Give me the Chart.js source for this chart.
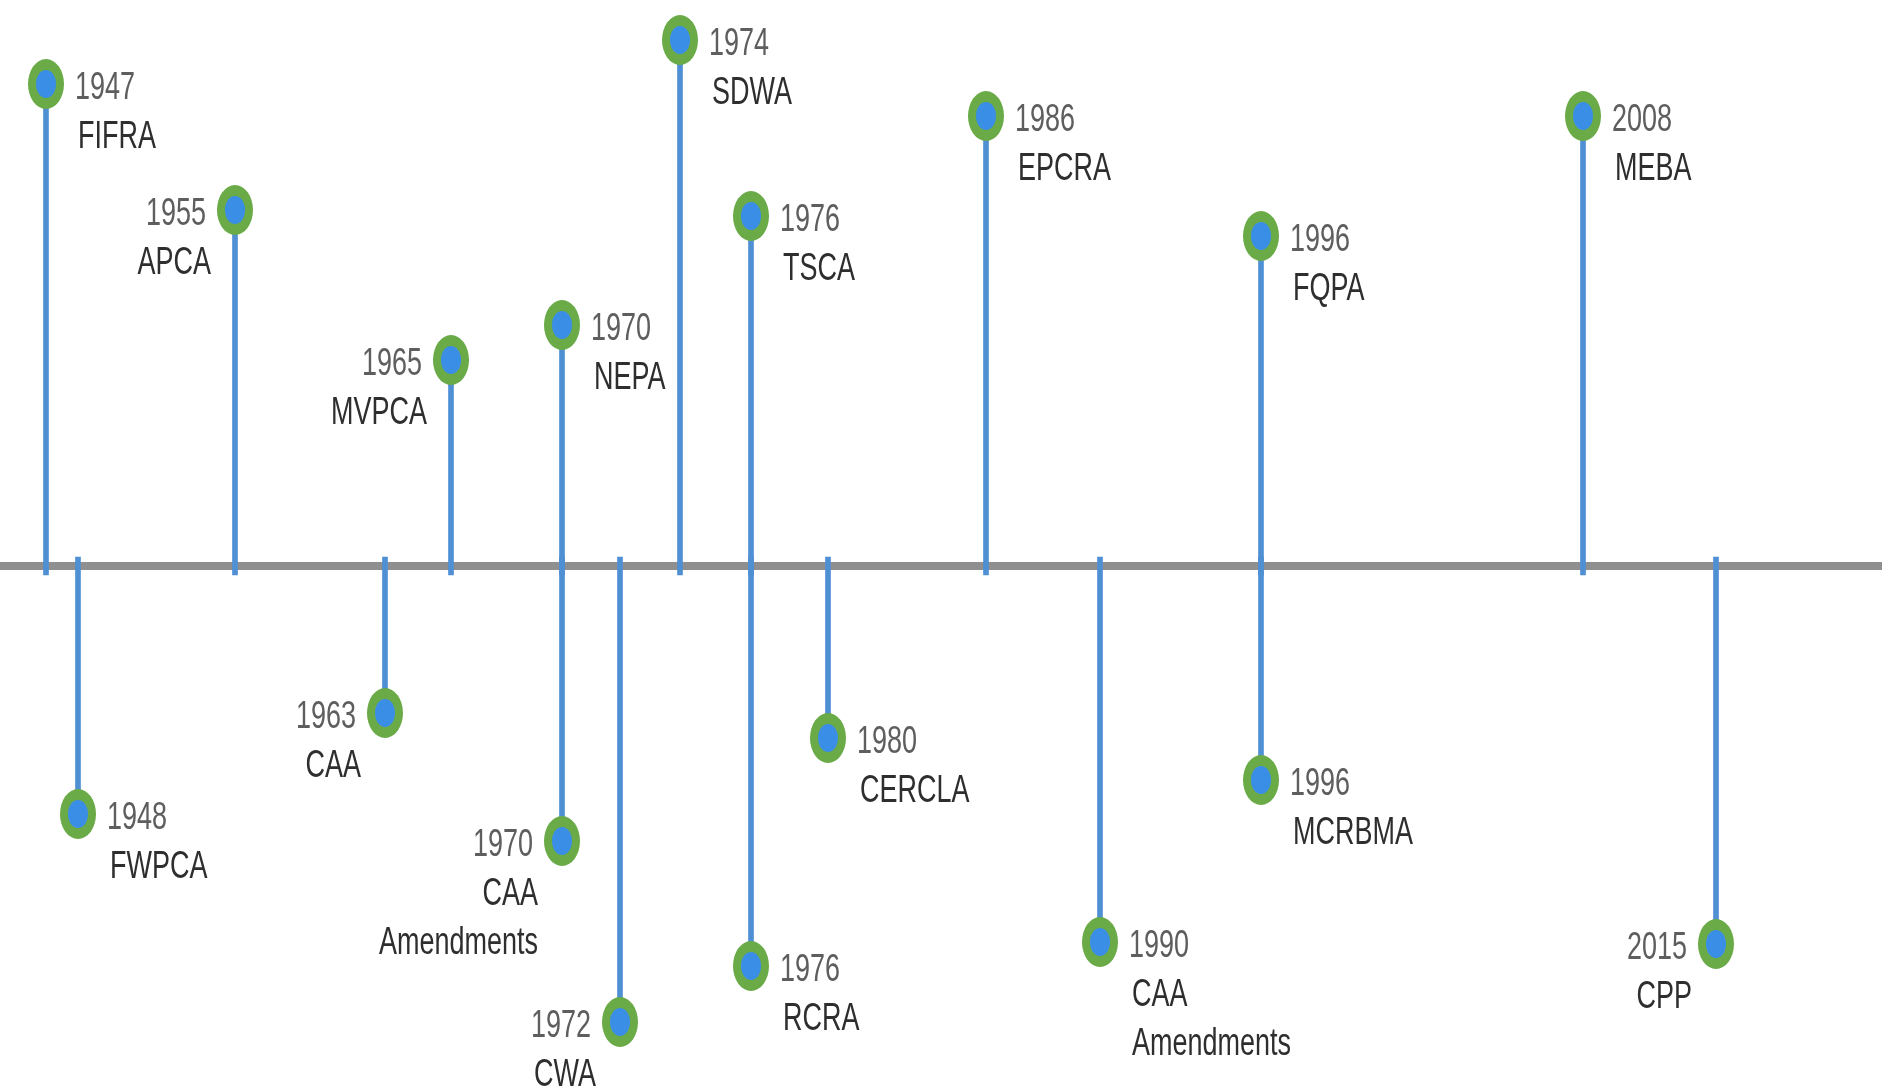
<!DOCTYPE html>
<html>
<head>
<meta charset="utf-8">
<script src="https://cdn.jsdelivr.net/npm/chart.js@4.4.1/dist/chart.umd.min.js"></script>
<style>
  html, body { margin: 0; padding: 0; background: #fff; }
  #wrap { width: 1882px; height: 1091px; position: relative; }
</style>
</head>
<body>
<div id="wrap"><canvas id="timeline"></canvas></div>
<script>
/* ── Data ──────────────────────────────────────────── */
const years = ["1947", "1948", "1955", "1963", "1965", "1970", "1970", "1972", "1974",
               "1976", "1976", "1980", "1986", "1990", "1996", "1996", "2008", "2015"];
const acts  = ["FIFRA", "FWPCA", "APCA", "CAA", "MVPCA", "NEPA", "CAA Amendments", "CWA", "SDWA",
               "TSCA", "RCRA", "CERCLA", "EPCRA", "CAA Amendments", "FQPA", "MCRBMA", "MEBA", "CPP"];
// position along the timeline (not linear in years in the source)
const timelinePos = [46, 78, 235, 385, 451, 562, 562, 620, 680,
                     751, 751, 828, 986, 1100, 1261, 1261, 1583, 1716];
// stem length: positive = above the axis, negative = below
const stemHeight  = [482, -248, 356, -147, 206, 241, -275, -456, 526,
                     350, -400, -172, 450, -376, 330, -214, 450, -378];
const labelSide   = ["right", "right", "left", "left", "left", "right", "left", "left", "right",
                     "right", "right", "right", "right", "right", "right", "right", "right", "left"];

/* ── Styles ────────────────────────────────────────── */
const STEM_COLOR  = "#4f8fd3";
const AXIS_COLOR  = "#8f8f8f";
const RING_COLOR  = "#6aab48";
const DOT_COLOR   = "#3a8ee6";
const YEAR_COLOR  = "#5e5e5e";
const NAME_COLOR  = "#2e2e2e";
const FONT        = "27px 'Liberation Sans', Arial, sans-serif";
const TEXT_STRETCH = 1.45;   // source text is stretched vertically
const LINE_GAP    = 49;
const OVERSHOOT   = 9;       // stems poke a little past the axis

/* ── Marker: stretched green ring with blue core ───── */
function makeMarker() {
  const w = 38, h = 52;
  const c = document.createElement("canvas");
  c.width = w; c.height = h;
  const g = c.getContext("2d");
  g.fillStyle = RING_COLOR;
  g.beginPath(); g.ellipse(w / 2, h / 2, 18, 25, 0, 0, Math.PI * 2); g.fill();
  g.fillStyle = DOT_COLOR;
  g.beginPath(); g.ellipse(w / 2, h / 2, 10, 14, 0, 0, Math.PI * 2); g.fill();
  return c;
}

/* ── Plugins ───────────────────────────────────────── */
const axisLine = {
  id: "axisLine",
  beforeDatasetsDraw(chart) {
    const { ctx, chartArea, scales } = chart;
    const y = scales.y.getPixelForValue(0);
    ctx.save();
    ctx.strokeStyle = AXIS_COLOR;
    ctx.lineWidth = 8;
    ctx.beginPath();
    ctx.moveTo(chartArea.left, y);
    ctx.lineTo(chartArea.right, y);
    ctx.stroke();
    ctx.restore();
  }
};

const eventLabels = {
  id: "eventLabels",
  afterDatasetsDraw(chart) {
    const { ctx, scales } = chart;
    ctx.save();
    ctx.font = FONT;
    ctx.textBaseline = "middle";
    years.forEach((yr, i) => {
      const px = scales.x.getPixelForValue(timelinePos[i]);
      const py = scales.y.getPixelForValue(stemHeight[i]);
      const right = labelSide[i] === "right";
      const lines = [yr].concat(acts[i].split(" "));
      ctx.textAlign = right ? "left" : "right";
      lines.forEach((txt, j) => {
        const dx = right ? (j === 0 ? 29 : 32) : (j === 0 ? -29 : -24);
        ctx.save();
        ctx.translate(px + dx, py + 4 + j * LINE_GAP);
        ctx.scale(1, TEXT_STRETCH);
        ctx.fillStyle = j === 0 ? YEAR_COLOR : NAME_COLOR;
        ctx.fillText(txt, 0, 0);
        ctx.restore();
      });
    });
    ctx.restore();
  }
};

/* ── Chart ─────────────────────────────────────────── */
const stems   = timelinePos.map((x, i) => ({ x, y: stemHeight[i] > 0 ? [-OVERSHOOT, stemHeight[i]] : [OVERSHOOT, stemHeight[i]] }));
const markers = timelinePos.map((x, i) => ({ x, y: stemHeight[i] }));

new Chart(document.getElementById("timeline"), {
  type: "bar",
  data: {
    datasets: [
      {
        type: "scatter",
        data: markers,
        pointStyle: makeMarker(),
        order: 0
      },
      {
        type: "bar",
        data: stems,
        backgroundColor: STEM_COLOR,
        barThickness: 5,
        borderSkipped: false,
        order: 1
      }
    ]
  },
  options: {
    responsive: true,
    maintainAspectRatio: false,
    animation: false,
    events: [],
    layout: { padding: 0, autoPadding: false },
    plugins: { legend: { display: false }, tooltip: { enabled: false } },
    scales: {
      x: { type: "linear", min: 0, max: 1882, offset: false, display: false },
      y: { type: "linear", min: -525, max: 566, display: false }
    }
  },
  plugins: [axisLine, eventLabels]
});
</script>
</body>
</html>
